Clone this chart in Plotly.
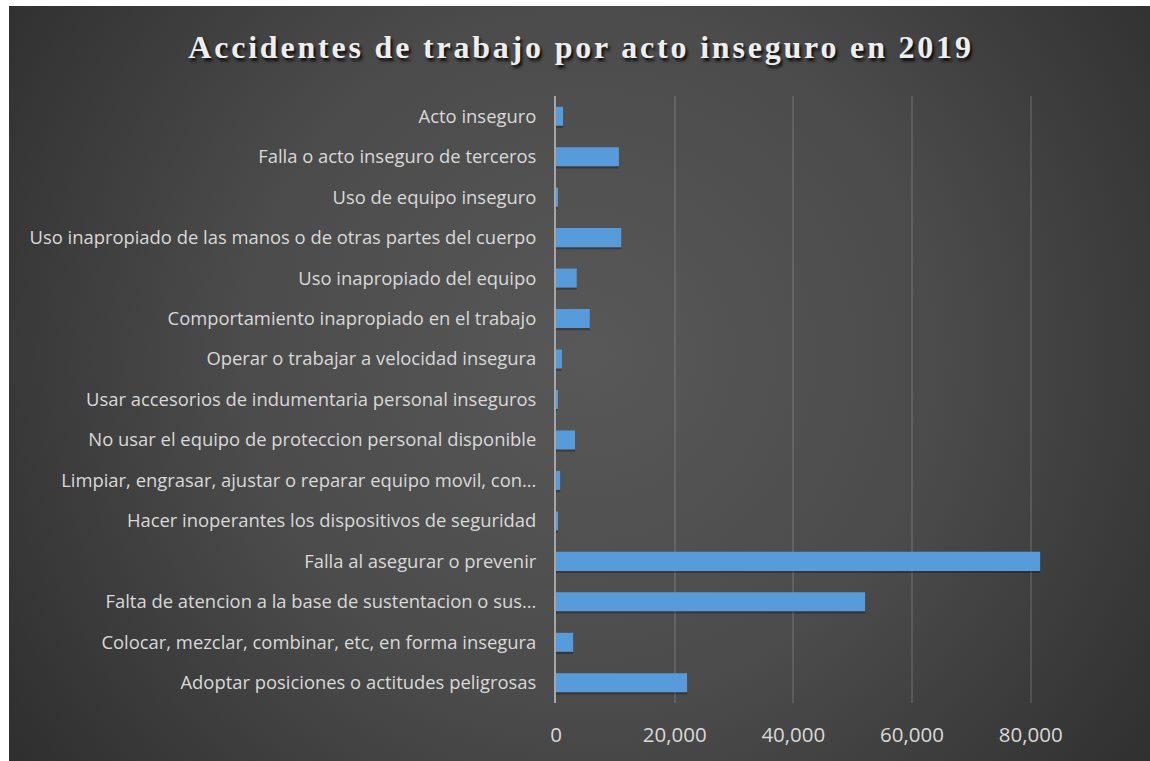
import plotly.graph_objects as go
import urllib.parse

categories = [
    "Acto inseguro",
    "Falla o acto inseguro de terceros",
    "Uso de equipo inseguro",
    "Uso inapropiado de las manos o de otras partes del cuerpo",
    "Uso inapropiado del equipo",
    "Comportamiento inapropiado en el trabajo",
    "Operar o trabajar a velocidad insegura",
    "Usar accesorios de indumentaria personal inseguros",
    "No usar el equipo de proteccion personal disponible",
    "Limpiar, engrasar, ajustar o reparar equipo movil, con…",
    "Hacer inoperantes los dispositivos de seguridad",
    "Falla al asegurar o prevenir",
    "Falta de atencion a la base de sustentacion o sus…",
    "Colocar, mezclar, combinar, etc, en forma insegura",
    "Adoptar posiciones o actitudes peligrosas",
]
accidents = [1200, 10600, 300, 11000, 3500, 5700, 1000, 200, 3200, 700, 350, 81600, 52100, 2900, 22100]

tick_vals = [0, 20000, 40000, 60000, 80000]
tick_text = ["0", "20,000", "40,000", "60,000", "80,000"]
title_text = "Accidentes de trabajo por acto inseguro en 2019"

W, H = 1150, 761
L, T = 556, 96
R = W - 1090
B = H - 703
pw, ph = W - L - R, H - T - B

svg = (
    "<svg xmlns='http://www.w3.org/2000/svg' width='1141' height='755' viewBox='0 0 1141 755' preserveAspectRatio='none'>"
    "<defs><radialGradient id='g' cx='0.50' cy='0.45' r='0.72' gradientTransform='translate(0.5 0.45) scale(1 1.5) translate(-0.5 -0.45)'>"
    "<stop offset='0' stop-color='#585858'/><stop offset='0.42' stop-color='#4b4b4b'/>"
    "<stop offset='1' stop-color='#242424'/></radialGradient></defs>"
    "<rect width='1141' height='755' fill='url(#g)'/></svg>"
)
src = "data:image/svg+xml;charset=utf-8," + urllib.parse.quote(svg)

# background panel in pixels: from (9, 6) past the page edge
px0, py0, pxw, pyh = 9, 6, W - 9 + 20, H - 6 + 20
x0p = (px0 - L) / pw
y1p = 1 - (py0 - T) / ph
wp = pxw / pw
hp = pyh / ph

fig = go.Figure()
fig.add_trace(go.Bar(
    y=categories, x=accidents, orientation="h",
    marker=dict(color="rgba(0,0,0,0.28)", line=dict(width=0)),
    width=0.47, offset=-0.18, hoverinfo="skip", showlegend=False,
))
fig.add_trace(go.Bar(
    y=categories, x=accidents, orientation="h",
    marker=dict(color="#589bdb", line=dict(width=0)),
    width=0.47, offset=-0.235, showlegend=False,
))

# white frame strips (left and top) in paper coordinates
fig.add_shape(type="rect", xref="paper", yref="paper", layer="below",
              x0=(0 - L) / pw, x1=(9 - L) / pw, y0=1 - (H - T) / ph, y1=1 + T / ph,
              fillcolor="white", line=dict(width=0))
fig.add_shape(type="rect", xref="paper", yref="paper", layer="below",
              x0=(0 - L) / pw, x1=(W + 10 - L) / pw, y0=1 + (T - 6) / ph, y1=1 + T / ph,
              fillcolor="white", line=dict(width=0))

fig.update_layout(
    width=W, height=H,
    margin=dict(l=L, r=R, t=T, b=B, pad=0),
    paper_bgcolor="#272727",
    plot_bgcolor="rgba(0,0,0,0)",
    barmode="overlay",
    images=[dict(source=src, xref="paper", yref="paper", x=x0p, y=y1p,
                 sizex=wp, sizey=hp, xanchor="left", yanchor="top",
                 sizing="stretch", layer="below")],
    title=dict(text=title_text, x=581 / W, xref="container",
               y=1 - 47 / H, yref="container",
               xanchor="center", yanchor="middle",
               font=dict(family="Liberation Serif, Times New Roman, serif", size=32,
                         color="#eeeeee", weight="bold",
                         shadow="2px 3px 3px rgba(0,0,0,0.85)")),
    xaxis=dict(range=[0, 90000], tickvals=tick_vals, ticktext=tick_text,
               showgrid=True, gridcolor="rgba(255,255,255,0.12)", gridwidth=1.5, zeroline=False,
               showline=False, ticks="", ticklabelstandoff=17,
               tickfont=dict(family="Open Sans, sans-serif", size=20.5, color="#d9d9d9")),
    yaxis=dict(autorange="reversed", showgrid=False, zeroline=False,
               showline=True, linecolor="#a6a6a6", linewidth=2, ticks="",
               ticklabelstandoff=14,
               tickfont=dict(family="Open Sans, sans-serif", size=18.4, color="#d9d9d9")),
    font=dict(family="Open Sans, sans-serif", color="#d9d9d9"),
)

post = """
document.body.style.margin = '0';
document.body.style.overflow = 'hidden';
document.body.style.background = '#272727';
var t = document.querySelector('.gtitle');
if (t) { t.style.letterSpacing = '2.8px'; }
"""

fig.write_html("out.html", post_script=post, config={"displayModeBar": False})
